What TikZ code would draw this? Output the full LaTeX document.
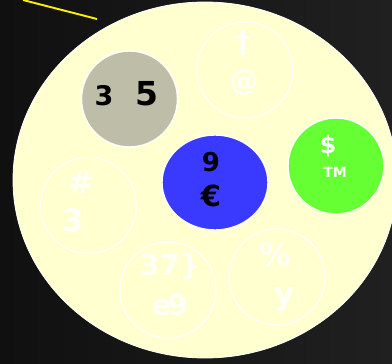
\documentclass[tikz,border=0pt]{standalone}
\usepackage{fontspec}
\setmainfont{DejaVu Sans}
\usetikzlibrary{shapes.geometric}
\definecolor{bgA}{RGB}{16,16,16}
\definecolor{bgB}{RGB}{32,32,32}
\definecolor{cream}{RGB}{255,255,208}
\definecolor{stone}{RGB}{190,190,168}
\definecolor{bblue}{RGB}{58,58,255}
\definecolor{lgreen}{RGB}{102,255,51}
\definecolor{lineyel}{RGB}{255,240,0}
\tikzset{
  disc/.style={circle,inner sep=0pt,minimum size=96pt,draw=white,line width=1.4pt},
  ghost/.style={disc,draw=white,draw opacity=0.85,fill=none},
  gtext/.style={inner sep=0pt,text=white,text opacity=0.85,font=\bfseries},
  btext/.style={inner sep=0pt,text=black,font=\bfseries},
}
\begin{document}
\begin{tikzpicture}[x=1pt,y=-1pt]
\useasboundingbox (0,0) rectangle (392,364);
\shade[left color=bgA,right color=bgB] (0,0) rectangle (392,364);
\node[ellipse,inner sep=0pt,minimum width=384pt,minimum height=356pt,fill=cream,draw=white,line width=0.8pt] (big) at (205,180) {};
\coordinate (ya) at (23,0);
\coordinate (yb) at (97,19);
\draw[lineyel,line width=1.9pt] (ya) -- (yb);
% faint circles
\node[ghost] (ct) at (245,70) {};
\node[gtext,font=\bfseries\fontsize{30}{30}\selectfont] (tdag) at (243,43) {†};
\node[gtext,font=\bfseries\fontsize{29}{29}\selectfont] (tat) at (244,83) {@};
\node[ghost] (cl) at (88.5,205.5) {};
\node[gtext,font=\bfseries\fontsize{31}{31}\selectfont] (thash) at (81,182) {\#};
\node[gtext,font=\bfseries\fontsize{31}{31}\selectfont] (tthree) at (73,220) {3};
\node[ghost] (cb) at (168,290) {};
\node[gtext,font=\bfseries\fontsize{29}{29}\selectfont] (tb1) at (170,267) {37\}};
\node[gtext,font=\bfseries\fontsize{29}{29}\selectfont] (tb2) at (170,305) {e\kern-4pt 9};
\node[ghost] (cr) at (277,277) {};
\node[gtext,font=\bfseries\fontsize{32}{32}\selectfont] (tpct) at (276,255) {\%};
\node[gtext,font=\bfseries\fontsize{31}{31}\selectfont] (ty) at (285,299) {y};
% coloured discs
\node[disc,fill=stone] (cg) at (129.5,99) {};
\node[btext,font=\bfseries\fontsize{27}{27}\selectfont] (t3) at (104,96) {3};
\node[btext,font=\bfseries\fontsize{33}{33}\selectfont] (t5) at (147,94) {5};
\node[ellipse,inner sep=0pt,minimum width=106pt,minimum height=95pt,fill=bblue,draw=white,line width=1.4pt] (cbl) at (215,182.5) {};
\node[btext,font=\bfseries\fontsize{26}{26}\selectfont] (t9) at (211,162) {9};
\node[btext,font=\bfseries\fontsize{29}{29}\selectfont] (teur) at (211,196) {€};
\node[disc,fill=lgreen] (cgr) at (336,166) {};
\node[btext,text=white,font=\bfseries\fontsize{24}{24}\selectfont] (tdol) at (328,146) {\$};
\node[btext,text=white,font=\bfseries\fontsize{14}{14}\selectfont] (ttm) at (335,172) {TM};
\end{tikzpicture}
\end{document}
